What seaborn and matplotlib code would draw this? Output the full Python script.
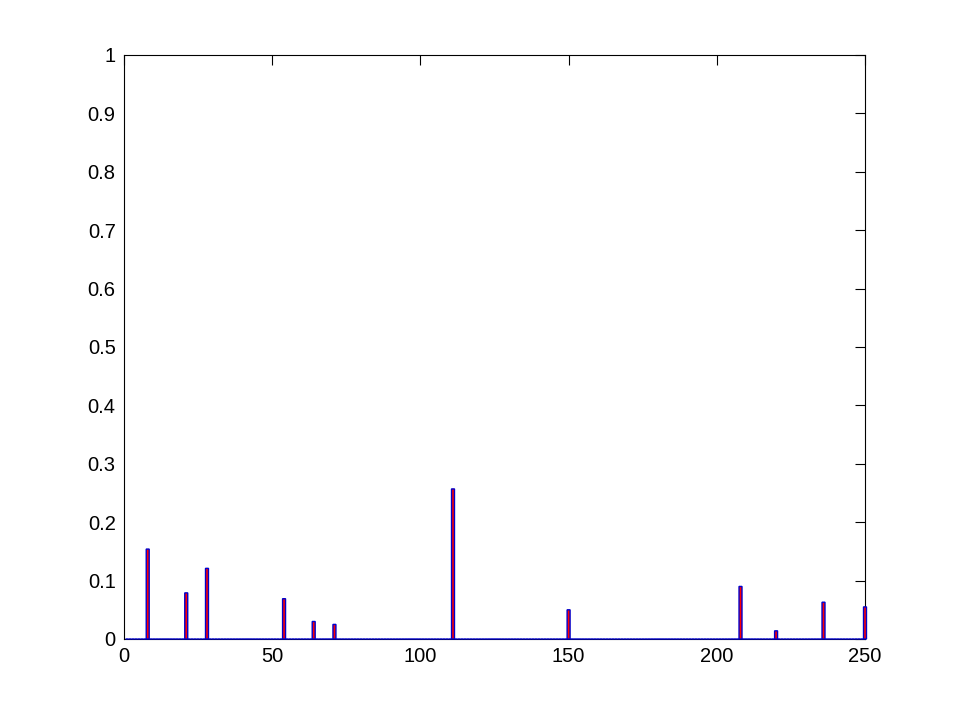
import numpy as np
import pandas as pd
import matplotlib
matplotlib.use("Agg")
import matplotlib.pyplot as plt
import seaborn as sns

# Data: bin index (1..250) and value; only non-zero bins listed
peak_bins = [8, 21, 28, 54, 64, 71, 111, 150, 208, 220, 236, 250]
peak_vals = [0.154, 0.079, 0.121, 0.069, 0.030, 0.025, 0.257, 0.050, 0.090, 0.014, 0.063, 0.055]
n_bins = 250

xticks = [0, 50, 100, 150, 200, 250]
yticks = [0, 0.1, 0.2, 0.3, 0.4, 0.5, 0.6, 0.7, 0.8, 0.9, 1]
ytick_labels = ["0", "0.1", "0.2", "0.3", "0.4", "0.5", "0.6", "0.7", "0.8", "0.9", "1"]

bins = np.arange(1, n_bins + 1)
vals = np.zeros(n_bins)
for b, v in zip(peak_bins, peak_vals):
    vals[b - 1] = v
df = pd.DataFrame({"bin": bins, "value": vals})

sns.set_style("white")
plt.rcParams["font.family"] = ["Liberation Sans", "DejaVu Sans"]

fig = plt.figure(figsize=(9.55, 7.18), dpi=100)
ax = fig.add_axes([124 / 955, 79 / 718, 741 / 955, 584 / 718])

sns.barplot(data=df, x="bin", y="value", native_scale=True, width=1.0,
            color="red", saturation=1, edgecolor="#0000cc", linewidth=1.0,
            errorbar=None, ax=ax)
for p in ax.patches:
    p.set_snap(False)
    p.set_clip_on(False)

ax.set_xlim(0, 250)
ax.set_ylim(0, 1)
ax.set_xticks(xticks)
ax.set_xticklabels([str(t) for t in xticks])
ax.set_yticks(yticks)
ax.set_yticklabels(ytick_labels)
ax.set_xlabel("")
ax.set_ylabel("")
ax.tick_params(direction="in", length=7, width=0.8, top=True, right=True,
               labelsize=14.5, colors="black", pad=6)
for s in ax.spines.values():
    s.set_visible(True)
    s.set_color("black")
    s.set_linewidth(0.8)
    s.set_zorder(0.5)

fig.savefig("out.png", dpi=100, facecolor="white")
